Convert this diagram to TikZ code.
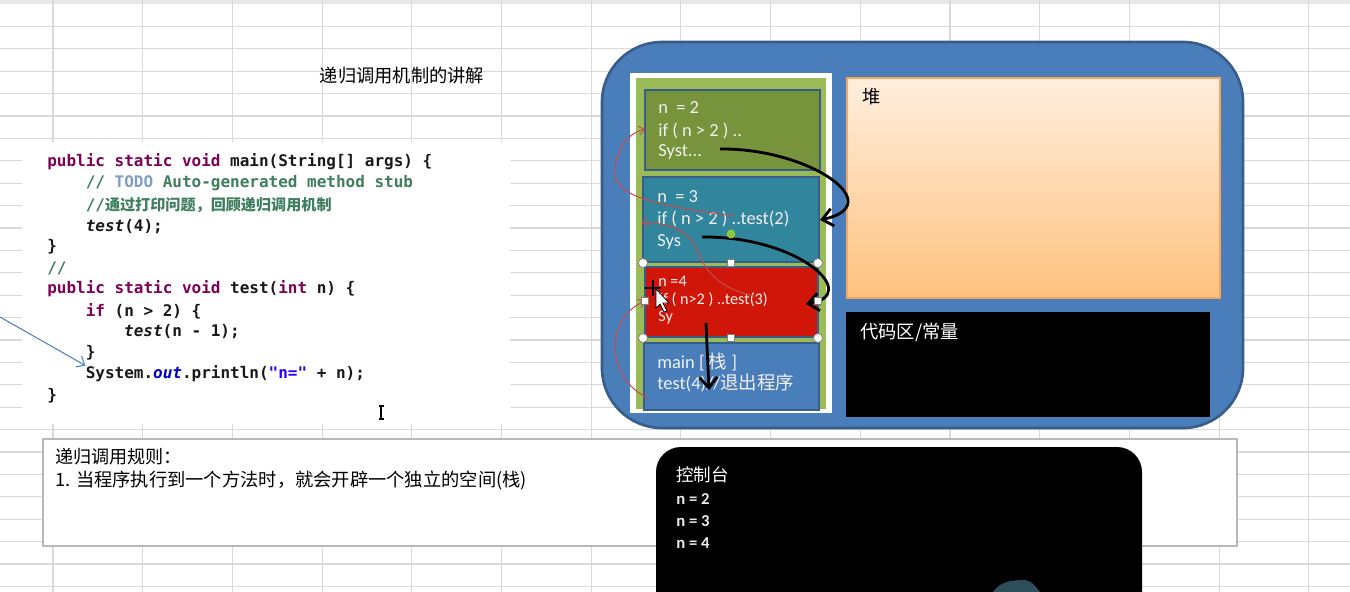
\documentclass[tikz,border=0pt]{standalone}
\usepackage{fontspec}
\setmainfont{Carlito}
\newfontfamily\cjk{Noto Sans CJK SC}
\newfontfamily\codefont{DejaVu Sans Mono}
\usetikzlibrary{arrows.meta}

\definecolor{gridgray}{HTML}{D9D9D9}
\definecolor{boxblue}{HTML}{4A7EBB}
\definecolor{darkblue}{HTML}{385D8A}
\definecolor{frametwo}{HTML}{77933C}
\definecolor{stackgreen}{HTML}{9BBB59}
\definecolor{framethree}{HTML}{31859C}
\definecolor{framefour}{HTML}{D01608}
\definecolor{heaptop}{HTML}{FFEEDD}
\definecolor{heapbot}{HTML}{FFC27F}
\definecolor{heapline}{HTML}{F7A55A}
\definecolor{kwcol}{HTML}{7F0055}
\definecolor{cmtcol}{HTML}{3F7F5F}
\definecolor{todocol}{HTML}{7F9FBF}
\definecolor{strcol}{HTML}{2A00FF}
\definecolor{fldcol}{HTML}{0000C0}
\definecolor{callred}{HTML}{C0504D}
\definecolor{pointblue}{HTML}{4F81BD}
\definecolor{rotgreen}{HTML}{8DC63F}
\definecolor{blobcol}{HTML}{2E4E5C}

\begin{document}
\begin{tikzpicture}[x=0.02cm, y=-0.02cm]
        \tikzset{gridline/.style={
            draw=gridgray,
            line width=0.6pt
        }}
        \tikzset{frame/.style={
            draw=darkblue,
            line width=1.3pt,
            fill=#1
        }}
        \tikzset{frametext/.style={
            anchor=west,
            inner sep=0pt,
            text=white!94!black,
            font=\fontsize{10.5}{12}\selectfont
        }}
        \tikzset{codeline/.style={
            anchor=west,
            inner sep=0pt,
            text=black!90,
            font=\codefont\bfseries\fontsize{9.1}{11}\selectfont
        }}
        \tikzset{cjktext/.style={
            anchor=west,
            inner sep=0pt,
            font=\cjk\fontsize{#1}{12}\selectfont
        }}
        \tikzset{flow/.style={
            line width=1.6pt,
            ->,
            >={Straight Barb[length=6pt,width=10pt]}
        }}
        \tikzset{call/.style={
            callred,
            line width=0.6pt,
            ->,
            >={Straight Barb[length=3pt,width=5pt]}
        }}
        \tikzset{handle/.style={
            draw=gray,
            fill=white,
            line width=0.4pt
        }}
        \useasboundingbox (0,0) rectangle (1350,592);
        \clip (0,0) rectangle (1350,592);
        % sheet
        \fill[white] (0,0) rectangle (1350,592);
        \fill[gray!18] (0,0) rectangle (1350,4);
        \foreach \gx in {53,142.7,...,1350} \draw[gridline] (\gx,0) -- (\gx,592);
        \foreach \gy in {26.4,48.8,...,592} \draw[gridline] (0,\gy) -- (1350,\gy);

        \node[cjktext=10.4, anchor=center] (title) at (402,76) {递归调用机制的讲解};

        % code
        \fill[white] (22,142) rectangle (510,424);
        \node[codeline] (c1) at (47,162) {\textcolor{kwcol}{public static void} main(String[] args) \{};
        \node[codeline] (c2) at (85.4,183) {\textcolor{cmtcol}{// \textcolor{todocol}{TODO} Auto-generated method stub}};
        \node[codeline] (c3) at (85.4,205) {\textcolor{cmtcol}{//{\cjk\fontsize{8.6}{11}\selectfont 通过打印问题，回顾递归调用机制}}};
        \node[codeline] (c4) at (85.4,227) {\textit{test}(4);};
        \node[codeline] (c5) at (47,247) {\}};
        \node[codeline] (c6) at (47,268) {\textcolor{cmtcol}{//}};
        \node[codeline] (c7) at (47,289) {\textcolor{kwcol}{public static void} test(\textcolor{kwcol}{int} n) \{};
        \node[codeline] (c8) at (85.4,311) {\textcolor{kwcol}{if} (n > 2) \{};
        \node[codeline] (c9) at (123.8,332) {\textit{test}(n - 1);};
        \node[codeline] (c10) at (85.4,353) {\}};
        \node[codeline] (c11) at (85.4,374) {System.\textcolor{fldcol}{\textit{out}}.println(\textcolor{strcol}{"n="} + n);};
        \node[codeline] (c12) at (47,396) {\}};
        \coordinate (cstart) at (0,317);
        \draw[pointblue, line width=0.6pt, -{Straight Barb[length=4pt,width=7pt]}] (cstart) -- (c11.north west);
        \draw[line width=0.6pt] (381,406) -- (381,419) (378.5,406) -- (383.5,406) (378.5,419) -- (383.5,419);

        % rules
        \draw[gray!55, fill=white, line width=0.6pt] (43,439) rectangle (1237,546);
        \node[cjktext=10.3] (rule0) at (55,457) {递归调用规则：};
        \node[cjktext=10.4] (rule1) at (55,481) {1. 当程序执行到一个方法时，就会开辟一个独立的空间(栈)};

        % memory
        \draw[darkblue, fill=boxblue, line width=1.5pt, rounded corners=1.2cm] (602,42) rectangle (1243,428);
        \fill[white] (630,73) rectangle (832,413);
        \fill[stackgreen] (636,78) rectangle (826,409);
        \draw[frame=frametwo] (645,90) rectangle (820,170);
        \draw[frame=framethree] (643,177) rectangle (819,262);
        \draw[frame=framefour] (645,267) rectangle (818,337);
        \draw[frame=boxblue] (644,343) rectangle (819,410);

        \node[frametext] (n2) at (658,108) {n \ = 2};
        \node[frametext] (if2) at (658,131) {if ( n > 2 ) ..};
        \node[frametext] (sys2) at (658,152) {Syst...};
        \node[frametext] (n3) at (657,197) {n \ = 3};
        \node[frametext] (if3) at (657,219) {if ( n > 2 ) ..test(2)};
        \node[frametext] (sys3) at (657,242) {Sys};
        \node[frametext, font=\fontsize{9.2}{11}\selectfont] (n4) at (658,281) {n =4};
        \node[frametext, font=\fontsize{9.2}{11}\selectfont] (if4) at (659,300) {if ( n>2 ) ..test(3)};
        \node[frametext, font=\fontsize{9.2}{11}\selectfont] (sys4) at (658,318) {Sy};
        \node[frametext] (main1) at (657,362) {main [ {\cjk 栈} ]};
        \node[frametext] (main2) at (657,383) {test(4)//{\cjk 退出程序}};

        \shade[top color=heaptop, bottom color=heapbot, draw=heapline, line width=0.6pt] (847,78) rectangle (1220,298);
        \node[cjktext=10.4] (heap) at (862,97) {堆};
        \fill[black] (846,312) rectangle (1210,417);
        \node[cjktext=10.4, text=white] (codearea) at (860,332) {代码区/常量};

        % calls and returns
        \coordinate (s2) at (720,149);
        \coordinate (t3) at (820,220);
        \coordinate (s3) at (702,237);
        \coordinate (t4) at (806,304);
        \coordinate (d4) at (706,323);
        \coordinate (tm) at (709,390);
        \draw[flow] (s2) .. controls (810,148) and (890,205) .. (t3);
        \draw[flow] (s3) .. controls (800,236) and (862,295) .. (t4);
        \draw[flow] (d4) -- (tm);

        \coordinate (r3) at (735,216);
        \coordinate (e2) at (645,129);
        \coordinate (r4) at (755,296);
        \coordinate (e3) at (642,223);
        \coordinate (rm) at (648,398);
        \coordinate (e4) at (645,301);
        \draw[call] (r3) .. controls (650,205) and (612,195) .. (615,170) .. controls (617,145) and (630,133) .. (e2);
        \draw[call] (r4) .. controls (712,288) and (702,262) .. (697,250) .. controls (690,232) and (670,222) .. (e3);
        \draw[call] (rm) .. controls (605,378) and (605,318) .. (e4);

        % selection of the red frame
        \foreach \hx/\hy in {643/263, 818/263, 643/338, 818/338} \draw[handle] (\hx,\hy) circle[radius=4.5];
        \foreach \hx/\hy in {731/263, 731/338, 645/301, 818/301} \draw[handle] (\hx-3.5,\hy-3.5) rectangle (\hx+3.5,\hy+3.5);
        \fill[rotgreen] (731,234) circle[radius=4.5];
        \draw[black, line width=0.7pt] (645,288) -- (661,288) (653,280) -- (653,296);
        \draw[black, fill=white, line width=0.4pt] (656,289) -- (656,308) -- (660,304) -- (664,312) -- (667,311) -- (663,303) -- (669,303) -- cycle;

        % console
        \fill[black, rounded corners=0.5cm] (656,447) rectangle (1142,640);
        \node[cjktext=10, text=white] (console) at (676,475) {控制台};
        \foreach \k/\yy in {2/499, 3/521, 4/543}
            \node[anchor=west, inner sep=0pt, text=white!92!black, font=\bfseries\fontsize{9.5}{11}\selectfont] (out\k) at (676,\yy) {n = \k};
        \fill[blobcol] (993,592) .. controls (1000,582) and (1010,580) .. (1025,580) .. controls (1032,582) .. (1040,592) -- cycle;
    \end{tikzpicture}
\end{document}
